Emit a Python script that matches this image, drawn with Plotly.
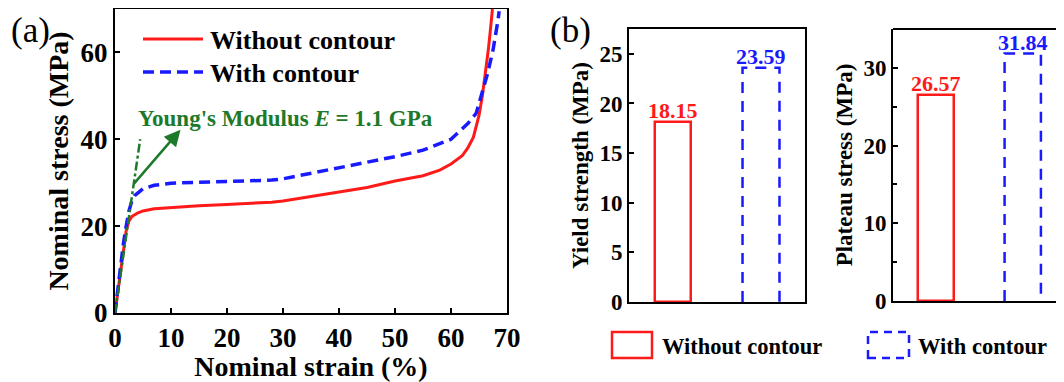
import plotly.graph_objects as go

# page body has an 8px margin, so the figure is drawn in the remaining area
OFF = 8
W, H = 1064 - OFF, 382 - OFF

# ---------------- data ----------------
strain_without = [0, 0.5, 1.0, 1.5, 2.0, 2.5, 3.0, 4.0, 5.0, 7.0, 10, 15, 20, 25, 28, 30, 32, 35, 40, 45, 50, 55, 58, 60, 62, 63, 64, 65, 65.6, 66.2, 66.7, 67.1, 67.4]
stress_without = [0, 5.0, 10.0, 15.0, 19.0, 21.2, 22.2, 23.0, 23.5, 24.0, 24.3, 24.7, 25.0, 25.3, 25.5, 25.8, 26.2, 26.8, 27.9, 28.9, 30.4, 31.6, 32.9, 34.3, 36.2, 38.0, 40.5, 45.5, 50.0, 55.5, 61.0, 66.0, 70.0]

strain_with = [0, 0.5, 1.0, 1.5, 2.0, 2.5, 3.0, 3.5, 5.0, 7.0, 10, 15, 20, 25, 28, 30, 32, 35, 40, 45, 50, 55, 58, 60, 61, 63, 64.5, 65.5, 66.5, 67.5, 68.0, 68.4, 68.6]
stress_with = [0, 5.5, 11.0, 16.0, 20.0, 23.5, 25.8, 27.0, 28.6, 29.4, 29.9, 30.1, 30.3, 30.5, 30.6, 30.9, 31.4, 32.2, 33.4, 34.6, 36.0, 37.5, 38.9, 40.0, 41.2, 43.6, 46.0, 50.5, 55.0, 60.5, 64.0, 67.5, 69.5]

modulus_line_x = [0, 4.5]
modulus_line_y = [0, 40]

bar_categories = [0, 1]  # 0: Without contour, 1: With contour
series_names = ["Without contour", "With contour"]
yield_strength = [18.15, 23.59]
plateau_stress = [26.57, 31.84]
bar_width = 0.42

RED = "#ff1a1a"
BLUE = "#1a1aff"
GREEN = "#1d7a2a"
FONT = "Liberation Serif"


def px(x):
    return (x - OFF) / W


def py(y):
    return 1 - (y - OFF) / H


fig = go.Figure()

# ---------------- panel (a) ----------------
fig.add_trace(go.Scatter(x=strain_without, y=stress_without, mode="lines",
                         line=dict(color=RED, width=3), xaxis="x", yaxis="y",
                         name=series_names[0], showlegend=False))
fig.add_trace(go.Scatter(x=strain_with, y=stress_with, mode="lines",
                         line=dict(color=BLUE, width=3.5, dash="11px,6px"), xaxis="x", yaxis="y",
                         name=series_names[1], showlegend=False))
fig.add_trace(go.Scatter(x=modulus_line_x, y=modulus_line_y, mode="lines",
                         line=dict(color=GREEN, width=2.5, dash="dashdot"), xaxis="x", yaxis="y",
                         showlegend=False))

# ---------------- panel (b) yield ----------------
fig.add_trace(go.Bar(x=[bar_categories[0]], y=[yield_strength[0]], width=bar_width,
                     marker=dict(color="rgba(255,255,255,0)", line=dict(color=RED, width=2.5)),
                     xaxis="x2", yaxis="y2", showlegend=False))
c = bar_categories[1]
v = yield_strength[1]
fig.add_trace(go.Scatter(x=[c - bar_width / 2, c - bar_width / 2, c + bar_width / 2, c + bar_width / 2],
                         y=[0, v, v, 0], mode="lines", line=dict(color=BLUE, width=2.5, dash="11px,8px"),
                         xaxis="x2", yaxis="y2", showlegend=False))

# ---------------- panel (b) plateau ----------------
fig.add_trace(go.Bar(x=[bar_categories[0]], y=[plateau_stress[0]], width=bar_width,
                     marker=dict(color="rgba(255,255,255,0)", line=dict(color=RED, width=2.5)),
                     xaxis="x3", yaxis="y3", showlegend=False))
v = plateau_stress[1]
fig.add_trace(go.Scatter(x=[c - bar_width / 2, c - bar_width / 2, c + bar_width / 2, c + bar_width / 2],
                         y=[0, v, v, 0], mode="lines", line=dict(color=BLUE, width=2.5, dash="11px,8px"),
                         xaxis="x3", yaxis="y3", showlegend=False))

axis_common = dict(showline=True, linecolor="black", linewidth=2, ticks="inside",
                   ticklen=5, tickwidth=2, tickcolor="black", showgrid=False, zeroline=False,
                   automargin=False)

fig.update_layout(
    width=W, height=H,
    margin=dict(l=0, r=0, t=0, b=0),
    paper_bgcolor="white", plot_bgcolor="white",
    font=dict(family=FONT, color="black"),
    bargap=0,
    xaxis=dict(domain=[px(115), px(507)], range=[0, 70], dtick=10, mirror=True,
               tickfont=dict(size=27, family=FONT), anchor="y",
               title=dict(text="<b>Nominal strain (%)</b>", font=dict(size=28), standoff=6),
               tickprefix="<b>", ticksuffix="</b>", **axis_common),
    yaxis=dict(domain=[py(313), py(9)], range=[0, 70], dtick=20, mirror=True,
               tickfont=dict(size=27, family=FONT), anchor="x",
               title=dict(text="<b>Nominal stress (MPa)</b>", font=dict(size=28), standoff=4),
               tickprefix="<b>", ticksuffix="</b>", **axis_common),
    xaxis2=dict(domain=[px(629), px(805)], range=[-0.5, 1.5], showticklabels=False,
                mirror=True, anchor="y2", showline=True, linecolor="black", linewidth=2,
                ticks="", showgrid=False, zeroline=False, automargin=False),
    yaxis2=dict(domain=[py(302), py(29)], range=[0, 27.5], dtick=5, mirror=True, anchor="x2",
                tickfont=dict(size=23, family=FONT),
                title=dict(text="<b>Yield strength (MPa)</b>", font=dict(size=23), standoff=4),
                tickprefix="<b>", ticksuffix="</b>", **axis_common),
    xaxis3=dict(domain=[px(893), 1.0], range=[-0.5, 1.477], showticklabels=False,
                anchor="y3", showline=True, linecolor="black", linewidth=2,
                ticks="", showgrid=False, zeroline=False, automargin=False),
    yaxis3=dict(domain=[py(301), py(29)], range=[0, 35], dtick=10, anchor="x3",
                tickfont=dict(size=23, family=FONT),
                minor=dict(dtick=5, ticks="inside", ticklen=4, tickwidth=2, tickcolor="black"),
                title=dict(text="<b>Plateau stress (MPa)</b>", font=dict(size=23), standoff=4),
                tickprefix="<b>", ticksuffix="</b>", **axis_common),
)

shapes = []
annotations = []

# top border of the clipped right panel
shapes.append(dict(type="line", xref="x3 domain", yref="y3 domain", x0=0, x1=1, y0=1, y1=1,
                   line=dict(color="black", width=2)))

# legend (a)
shapes.append(dict(type="line", xref="paper", yref="paper", x0=px(143), x1=px(203), y0=py(39), y1=py(39),
                   line=dict(color=RED, width=3)))
shapes.append(dict(type="line", xref="paper", yref="paper", x0=px(143), x1=px(203), y0=py(72), y1=py(72),
                   line=dict(color=BLUE, width=3.5, dash="11px,6px")))
annotations.append(dict(xref="paper", yref="paper", x=px(208), y=py(40), xanchor="left", yanchor="middle",
                        text="<b>" + series_names[0] + "</b>", showarrow=False,
                        font=dict(size=26, family=FONT, color="black")))
annotations.append(dict(xref="paper", yref="paper", x=px(208), y=py(73), xanchor="left", yanchor="middle",
                        text="<b>" + series_names[1] + "</b>", showarrow=False,
                        font=dict(size=26, family=FONT, color="black")))

# Young's modulus annotation
annotations.append(dict(xref="paper", yref="paper", x=px(136), y=py(118), xanchor="left", yanchor="middle",
                        text="<b>Young's Modulus <i>E</i> = 1.1 GPa</b>", showarrow=False,
                        font=dict(size=23, family=FONT, color=GREEN)))
annotations.append(dict(xref="x", yref="y", x=11.7, y=42.2, ax=3.2, ay=29.5, axref="x", ayref="y",
                        text="", showarrow=True, arrowhead=2, arrowsize=1.3, arrowwidth=2.5,
                        arrowcolor=GREEN))

# bar value labels
for xr, yr, vals in (("x2", "y2", yield_strength), ("x3", "y3", plateau_stress)):
    for cat, val, col in zip(bar_categories, vals, (RED, BLUE)):
        annotations.append(dict(xref=xr, yref=yr, x=cat, y=val, yanchor="bottom", xanchor="center",
                                text="<b>%.2f</b>" % val, showarrow=False, yshift=-3,
                                font=dict(size=22, family=FONT, color=col)))

# panel labels
annotations.append(dict(xref="paper", yref="paper", x=px(9), y=py(30), xanchor="left", yanchor="middle",
                        text="(a)", showarrow=False, font=dict(size=35, family=FONT, color="black")))
annotations.append(dict(xref="paper", yref="paper", x=px(548), y=py(30), xanchor="left", yanchor="middle",
                        text="(b)", showarrow=False, font=dict(size=35, family=FONT, color="black")))

# legend (b)
shapes.append(dict(type="rect", xref="paper", yref="paper", x0=px(612), x1=px(652), y0=py(358), y1=py(332),
                   line=dict(color=RED, width=2.5), fillcolor="rgba(0,0,0,0)"))
shapes.append(dict(type="rect", xref="paper", yref="paper", x0=px(868), x1=px(909), y0=py(358), y1=py(332),
                   line=dict(color=BLUE, width=2.5, dash="8px,6px"), fillcolor="rgba(0,0,0,0)"))
annotations.append(dict(xref="paper", yref="paper", x=px(660), y=py(346), xanchor="left", yanchor="middle",
                        text="<b>" + series_names[0] + "</b>", showarrow=False,
                        font=dict(size=22.5, family=FONT, color="black")))
annotations.append(dict(xref="paper", yref="paper", x=px(916), y=py(346), xanchor="left", yanchor="middle",
                        text="<b>" + series_names[1] + "</b>", showarrow=False,
                        font=dict(size=22.5, family=FONT, color="black")))

fig.update_layout(shapes=shapes, annotations=annotations)
fig.write_html("out.html")
